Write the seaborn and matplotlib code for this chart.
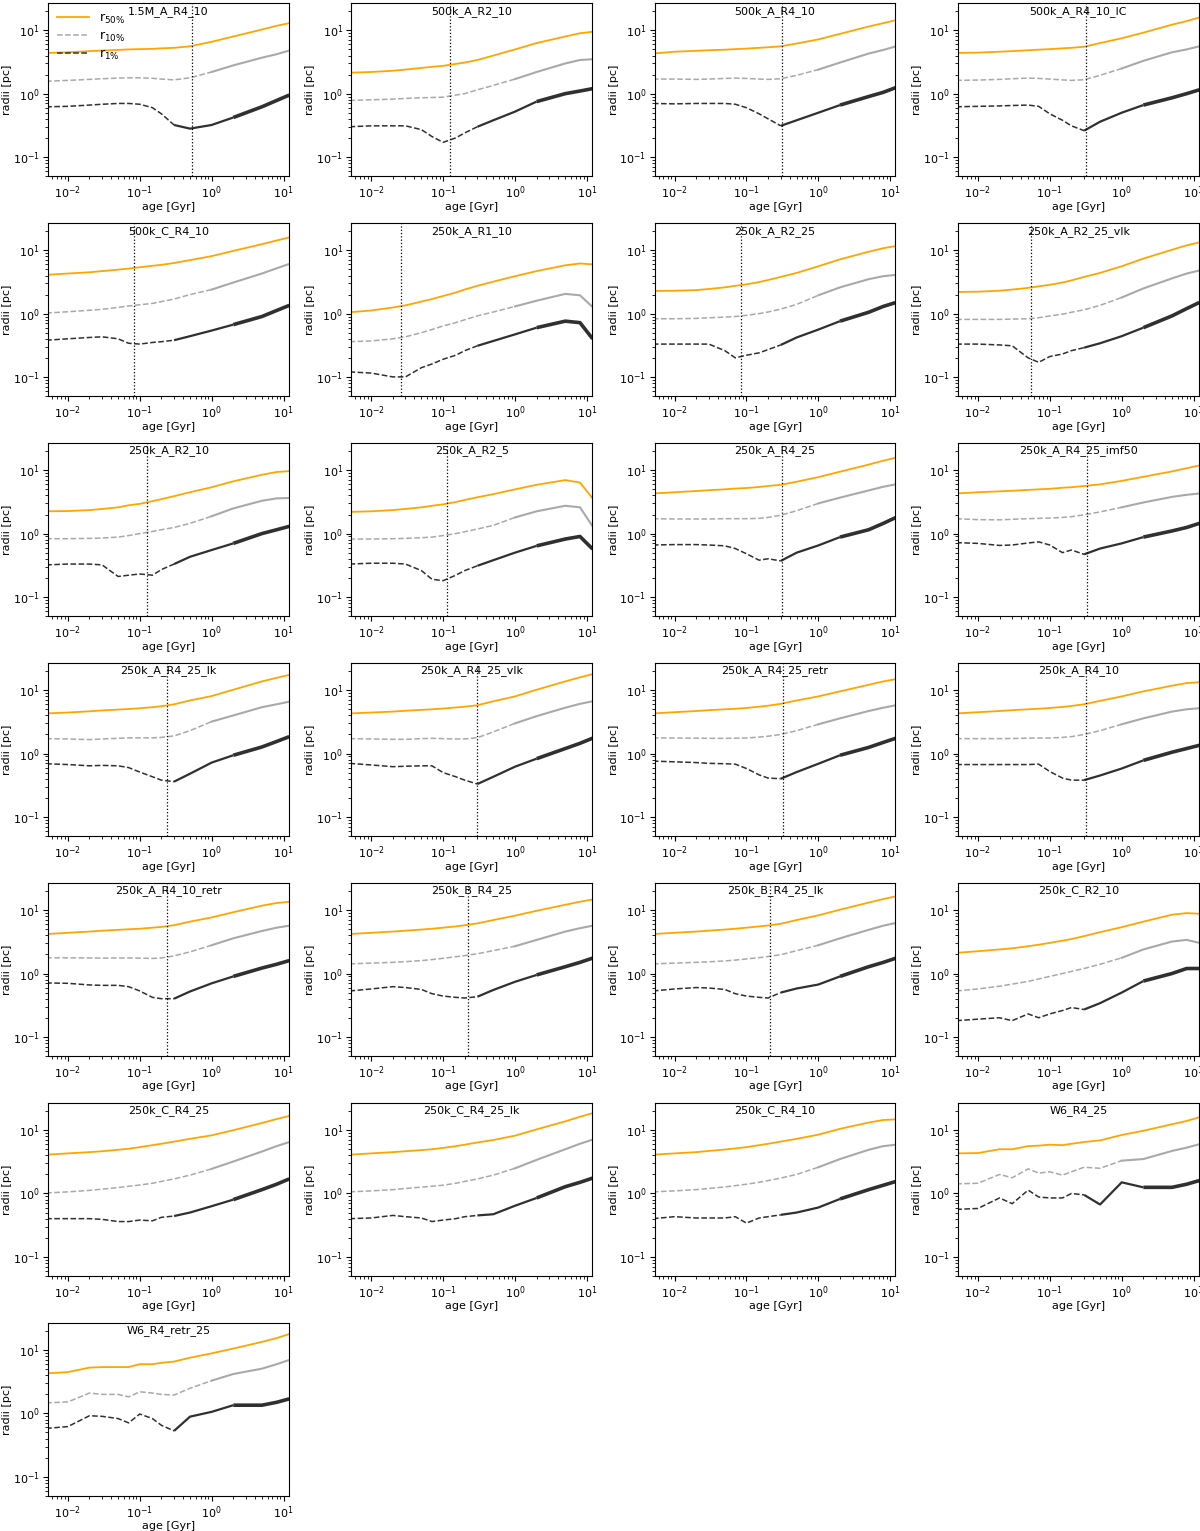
import numpy as np
import pandas as pd
import matplotlib
matplotlib.use("Agg")
import matplotlib.pyplot as plt
import seaborn as sns

# sampled ages (Gyr), shared by all runs
AGE = [0.005, 0.01, 0.02, 0.03, 0.05, 0.07, 0.1, 0.15, 0.2, 0.3, 0.5, 1, 2, 5, 8, 12]

NAMES = ["1.5M_A_R4_10", "500k_A_R2_10", "500k_A_R4_10", "500k_A_R4_10_IC",
         "500k_C_R4_10", "250k_A_R1_10", "250k_A_R2_25", "250k_A_R2_25_vlk",
         "250k_A_R2_10", "250k_A_R2_5", "250k_A_R4_25", "250k_A_R4_25_imf50",
         "250k_A_R4_25_lk", "250k_A_R4_25_vlk", "250k_A_R4_25_retr", "250k_A_R4_10",
         "250k_A_R4_10_retr", "250k_B_R4_25", "250k_B_R4_25_lk", "250k_C_R2_10",
         "250k_C_R4_25", "250k_C_R4_25_lk", "250k_C_R4_10", "W6_R4_25",
         "W6_R4_retr_25"]

# age of the dotted marker line (None = no line)
VLINE = [0.53, 0.125, 0.31, 0.32, 0.083, 0.026, 0.085, 0.054, 0.128, 0.113,
         0.31, 0.33, 0.24, 0.3, 0.32, 0.32, 0.24, 0.22, 0.21,
         None, None, None, None, None, None]

R50 = [
    [4.4, 4.5, 4.7, 4.8, 4.9, 5.0, 5.05, 5.1, 5.2, 5.3, 5.6, 6.6, 8.0, 10.3, 11.8, 13.0],
    [2.14, 2.2, 2.3, 2.4, 2.55, 2.65, 2.75, 2.95, 3.1, 3.4, 4.0, 5.0, 6.3, 8.0, 9.0, 9.5],
    [4.3, 4.6, 4.75, 4.85, 4.95, 5.05, 5.15, 5.3, 5.4, 5.6, 6.2, 7.2, 8.8, 11.5, 13.0, 14.5],
    [4.4, 4.45, 4.6, 4.7, 4.85, 4.95, 5.05, 5.2, 5.3, 5.5, 6.3, 7.5, 9.2, 12.3, 14.0, 16.0],
    [4.1, 4.3, 4.5, 4.7, 4.95, 5.15, 5.4, 5.7, 5.9, 6.3, 7.0, 8.1, 9.8, 12.5, 14.3, 16.0],
    [1.05, 1.12, 1.25, 1.35, 1.55, 1.7, 1.9, 2.15, 2.4, 2.75, 3.2, 3.9, 4.7, 5.8, 6.2, 6.0],
    [2.28, 2.3, 2.35, 2.45, 2.6, 2.75, 2.9, 3.15, 3.4, 3.8, 4.4, 5.6, 7.2, 9.5, 10.8, 11.7],
    [2.2, 2.22, 2.3, 2.4, 2.55, 2.7, 2.85, 3.1, 3.35, 3.8, 4.4, 5.6, 7.4, 10.2, 12.0, 13.3],
    [2.25, 2.27, 2.35, 2.45, 2.6, 2.8, 2.95, 3.25, 3.5, 3.9, 4.5, 5.4, 6.7, 8.5, 9.4, 9.7],
    [2.2, 2.25, 2.35, 2.45, 2.6, 2.75, 2.9, 3.15, 3.4, 3.75, 4.2, 5.0, 5.9, 7.0, 6.4, 3.6],
    [4.3, 4.5, 4.7, 4.85, 5.0, 5.15, 5.25, 5.45, 5.65, 5.9, 6.6, 7.8, 9.5, 12.3, 14.2, 15.8],
    [4.3, 4.5, 4.65, 4.75, 4.9, 5.0, 5.1, 5.3, 5.4, 5.65, 6.0, 6.8, 7.9, 9.6, 10.8, 11.9],
    [4.3, 4.45, 4.65, 4.8, 4.95, 5.05, 5.2, 5.4, 5.6, 6.0, 6.9, 8.1, 10.2, 13.8, 15.7, 17.5],
    [4.3, 4.45, 4.6, 4.75, 4.9, 5.0, 5.15, 5.35, 5.5, 5.8, 6.7, 8.0, 10.2, 13.8, 16.0, 18.0],
    [4.3, 4.5, 4.7, 4.85, 5.0, 5.1, 5.25, 5.5, 5.7, 6.1, 6.9, 8.0, 9.6, 12.2, 13.8, 15.0],
    [4.3, 4.5, 4.7, 4.85, 5.0, 5.1, 5.25, 5.45, 5.65, 6.0, 6.8, 8.0, 9.6, 11.8, 13.0, 13.4],
    [4.2, 4.4, 4.6, 4.75, 4.9, 5.0, 5.1, 5.3, 5.45, 5.8, 6.6, 7.7, 9.3, 11.8, 13.0, 13.6],
    [4.2, 4.4, 4.6, 4.75, 4.95, 5.1, 5.3, 5.55, 5.8, 6.2, 7.0, 8.2, 9.8, 12.2, 13.6, 14.8],
    [4.2, 4.4, 4.6, 4.75, 4.95, 5.1, 5.3, 5.55, 5.75, 6.1, 7.0, 8.3, 10.2, 13.2, 15.0, 16.6],
    [2.12, 2.25, 2.4, 2.5, 2.7, 2.85, 3.05, 3.3, 3.5, 3.9, 4.5, 5.4, 6.6, 8.5, 9.0, 8.8],
    [4.1, 4.3, 4.5, 4.65, 4.9, 5.1, 5.4, 5.8, 6.1, 6.6, 7.3, 8.3, 10.0, 13.0, 15.0, 16.8],
    [4.1, 4.3, 4.5, 4.65, 4.85, 5.0, 5.25, 5.6, 5.9, 6.4, 7.0, 8.2, 10.3, 13.8, 16.3, 18.6],
    [4.1, 4.3, 4.5, 4.7, 4.95, 5.15, 5.4, 5.8, 6.1, 6.6, 7.3, 8.5, 10.5, 13.2, 14.5, 14.8],
    [4.3, 4.35, 5.0, 5.0, 5.6, 5.7, 5.9, 5.8, 6.1, 6.5, 6.9, 8.4, 9.8, 12.4, 14.0, 16.0],
    [4.3, 4.5, 5.3, 5.4, 5.4, 5.4, 6.0, 6.0, 6.3, 6.6, 7.6, 8.9, 10.6, 13.5, 15.5, 18.0],
]

R10 = [
    [1.57, 1.62, 1.68, 1.72, 1.76, 1.78, 1.78, 1.75, 1.70, 1.65, 1.78, 2.2, 2.8, 3.7, 4.2, 4.8],
    [0.78, 0.80, 0.82, 0.84, 0.86, 0.87, 0.88, 0.95, 1.0, 1.15, 1.35, 1.7, 2.2, 3.0, 3.4, 3.5],
    [1.70, 1.70, 1.68, 1.70, 1.74, 1.76, 1.74, 1.70, 1.68, 1.72, 1.95, 2.4, 3.1, 4.3, 4.9, 5.6],
    [1.62, 1.64, 1.68, 1.72, 1.76, 1.74, 1.70, 1.65, 1.62, 1.66, 1.95, 2.5, 3.3, 4.5, 5.0, 5.6],
    [1.02, 1.07, 1.13, 1.17, 1.25, 1.32, 1.38, 1.45, 1.55, 1.7, 2.0, 2.4, 3.1, 4.3, 5.2, 6.1],
    [0.36, 0.37, 0.40, 0.43, 0.50, 0.56, 0.64, 0.72, 0.80, 0.92, 1.06, 1.3, 1.6, 2.05, 1.95, 1.27],
    [0.83, 0.83, 0.84, 0.86, 0.88, 0.90, 0.94, 1.0, 1.06, 1.18, 1.4, 1.95, 2.6, 3.5, 3.9, 4.1],
    [0.81, 0.81, 0.81, 0.82, 0.83, 0.86, 0.92, 0.98, 1.05, 1.15, 1.35, 1.8, 2.5, 3.6, 4.3, 4.8],
    [0.83, 0.83, 0.84, 0.85, 0.88, 0.93, 1.0, 1.08, 1.15, 1.25, 1.45, 1.88, 2.5, 3.3, 3.6, 3.65],
    [0.82, 0.82, 0.83, 0.84, 0.86, 0.88, 0.93, 1.0, 1.07, 1.18, 1.35, 1.8, 2.25, 2.75, 2.6, 1.3],
    [1.72, 1.70, 1.70, 1.70, 1.72, 1.72, 1.72, 1.74, 1.80, 1.95, 2.3, 3.0, 3.7, 4.8, 5.5, 6.0],
    [1.72, 1.66, 1.65, 1.68, 1.72, 1.74, 1.76, 1.80, 1.85, 1.98, 2.2, 2.6, 3.1, 3.8, 4.1, 4.3],
    [1.72, 1.70, 1.66, 1.70, 1.74, 1.77, 1.77, 1.77, 1.80, 1.90, 2.3, 3.2, 4.0, 5.4, 6.0, 6.6],
    [1.72, 1.70, 1.68, 1.68, 1.72, 1.74, 1.72, 1.70, 1.70, 1.78, 2.2, 3.0, 3.9, 5.3, 6.1, 6.7],
    [1.77, 1.76, 1.75, 1.74, 1.74, 1.75, 1.76, 1.82, 1.88, 2.0, 2.3, 2.9, 3.6, 4.7, 5.3, 5.8],
    [1.72, 1.72, 1.72, 1.73, 1.75, 1.76, 1.76, 1.80, 1.85, 2.0, 2.3, 2.9, 3.6, 4.6, 5.0, 5.2],
    [1.77, 1.77, 1.76, 1.75, 1.76, 1.76, 1.75, 1.73, 1.76, 1.9, 2.2, 2.8, 3.6, 4.7, 5.3, 5.7],
    [1.42, 1.46, 1.50, 1.54, 1.60, 1.66, 1.74, 1.84, 1.92, 2.05, 2.3, 2.7, 3.4, 4.6, 5.2, 5.7],
    [1.42, 1.46, 1.50, 1.53, 1.58, 1.63, 1.70, 1.78, 1.86, 1.98, 2.3, 2.8, 3.6, 4.9, 5.7, 6.3],
    [0.53, 0.57, 0.63, 0.68, 0.75, 0.82, 0.90, 1.0, 1.08, 1.2, 1.4, 1.77, 2.4, 3.2, 3.4, 3.05],
    [1.02, 1.06, 1.12, 1.17, 1.24, 1.30, 1.36, 1.45, 1.55, 1.7, 1.95, 2.45, 3.2, 4.6, 5.6, 6.5],
    [1.06, 1.10, 1.15, 1.2, 1.26, 1.30, 1.35, 1.45, 1.55, 1.70, 1.95, 2.5, 3.4, 5.0, 6.1, 7.1],
    [1.06, 1.10, 1.15, 1.2, 1.27, 1.33, 1.40, 1.5, 1.6, 1.75, 2.0, 2.6, 3.5, 4.9, 5.6, 5.9],
    [1.42, 1.45, 2.0, 1.77, 2.45, 2.1, 2.2, 1.95, 2.2, 2.6, 2.5, 3.3, 3.5, 4.7, 5.3, 6.0],
    [1.47, 1.52, 2.1, 2.0, 2.0, 1.83, 2.2, 2.1, 2.0, 1.95, 2.5, 3.3, 4.2, 5.1, 6.0, 7.0],
]

R1 = [
    [0.62, 0.63, 0.66, 0.68, 0.70, 0.70, 0.68, 0.60, 0.48, 0.32, 0.28, 0.32, 0.42, 0.62, 0.78, 0.95],
    [0.30, 0.31, 0.31, 0.31, 0.27, 0.21, 0.17, 0.20, 0.24, 0.30, 0.38, 0.52, 0.75, 1.0, 1.1, 1.2],
    [0.70, 0.69, 0.70, 0.70, 0.70, 0.68, 0.60, 0.48, 0.40, 0.31, 0.38, 0.50, 0.66, 0.90, 1.05, 1.25],
    [0.62, 0.63, 0.64, 0.65, 0.66, 0.63, 0.48, 0.38, 0.31, 0.26, 0.36, 0.50, 0.66, 0.86, 1.0, 1.15],
    [0.38, 0.40, 0.42, 0.43, 0.40, 0.34, 0.33, 0.35, 0.36, 0.38, 0.44, 0.54, 0.67, 0.90, 1.12, 1.35],
    [0.12, 0.115, 0.10, 0.10, 0.14, 0.16, 0.19, 0.22, 0.26, 0.31, 0.37, 0.47, 0.60, 0.76, 0.72, 0.40],
    [0.33, 0.33, 0.33, 0.33, 0.26, 0.20, 0.22, 0.24, 0.27, 0.32, 0.42, 0.56, 0.76, 1.05, 1.3, 1.5],
    [0.33, 0.33, 0.32, 0.31, 0.20, 0.17, 0.21, 0.23, 0.26, 0.29, 0.34, 0.44, 0.60, 0.92, 1.2, 1.5],
    [0.32, 0.33, 0.33, 0.32, 0.21, 0.22, 0.23, 0.22, 0.27, 0.33, 0.43, 0.55, 0.70, 1.0, 1.15, 1.3],
    [0.33, 0.34, 0.34, 0.33, 0.26, 0.19, 0.18, 0.22, 0.26, 0.31, 0.38, 0.50, 0.64, 0.82, 0.90, 0.57],
    [0.66, 0.67, 0.67, 0.66, 0.64, 0.58, 0.48, 0.38, 0.40, 0.37, 0.50, 0.65, 0.88, 1.15, 1.45, 1.8],
    [0.72, 0.70, 0.65, 0.66, 0.71, 0.74, 0.66, 0.50, 0.55, 0.47, 0.58, 0.70, 0.88, 1.10, 1.25, 1.45],
    [0.69, 0.67, 0.64, 0.65, 0.64, 0.60, 0.51, 0.43, 0.38, 0.36, 0.48, 0.72, 0.94, 1.27, 1.55, 1.85],
    [0.70, 0.66, 0.62, 0.63, 0.64, 0.64, 0.50, 0.43, 0.38, 0.33, 0.43, 0.62, 0.83, 1.20, 1.45, 1.75],
    [0.76, 0.74, 0.72, 0.70, 0.69, 0.68, 0.58, 0.46, 0.41, 0.40, 0.51, 0.69, 0.94, 1.25, 1.5, 1.75],
    [0.67, 0.67, 0.67, 0.67, 0.67, 0.68, 0.52, 0.41, 0.38, 0.38, 0.45, 0.58, 0.78, 1.05, 1.2, 1.35],
    [0.71, 0.70, 0.66, 0.65, 0.65, 0.62, 0.53, 0.42, 0.40, 0.40, 0.52, 0.70, 0.90, 1.22, 1.4, 1.6],
    [0.53, 0.57, 0.62, 0.60, 0.56, 0.48, 0.44, 0.42, 0.41, 0.43, 0.55, 0.74, 0.95, 1.28, 1.5, 1.75],
    [0.53, 0.57, 0.60, 0.59, 0.56, 0.48, 0.44, 0.42, 0.41, 0.50, 0.58, 0.67, 0.90, 1.28, 1.5, 1.75],
    [0.18, 0.19, 0.20, 0.18, 0.23, 0.20, 0.23, 0.26, 0.29, 0.27, 0.34, 0.50, 0.76, 1.0, 1.2, 1.2],
    [0.40, 0.40, 0.40, 0.39, 0.36, 0.36, 0.38, 0.37, 0.42, 0.44, 0.50, 0.63, 0.80, 1.15, 1.4, 1.7],
    [0.40, 0.41, 0.45, 0.43, 0.41, 0.36, 0.38, 0.40, 0.43, 0.45, 0.47, 0.64, 0.85, 1.28, 1.5, 1.75],
    [0.40, 0.43, 0.41, 0.41, 0.41, 0.43, 0.34, 0.41, 0.43, 0.46, 0.50, 0.60, 0.82, 1.15, 1.35, 1.55],
    [0.56, 0.58, 0.85, 0.69, 1.13, 0.88, 0.85, 0.85, 1.0, 0.95, 0.67, 1.5, 1.25, 1.25, 1.4, 1.6],
    [0.58, 0.62, 0.92, 0.90, 0.83, 0.71, 0.98, 0.83, 0.65, 0.53, 0.89, 1.06, 1.35, 1.35, 1.5, 1.7],
]

ORANGE = "orange"
GREY = "darkgray"
DARK = "#303030"

plt.rcParams["font.size"] = 8

fig, axes = plt.subplots(7, 4, figsize=(12, 15.31), dpi=100)
fig.subplots_adjust(left=0.04, right=0.999, top=0.998, bottom=0.023,
                    wspace=0.26, hspace=0.272)
axes = axes.ravel()

age = np.array(AGE)

for i, name in enumerate(NAMES):
    ax = axes[i]
    r50 = np.array(R50[i])
    r10 = np.array(R10[i])
    r1 = np.array(R1[i])
    first = i == 0

    sns.lineplot(x=age, y=r50, ax=ax, color=ORANGE, lw=1.3,
                 label=r"r$_{50\%}$" if first else None)

    # r10: dashed early, dense (looks solid) later
    m = age <= 1
    sns.lineplot(x=age[m], y=r10[m], ax=ax, color=GREY, lw=1.1, linestyle="--",
                 label=r"r$_{10\%}$" if first else None)
    m = age >= 1
    sns.lineplot(x=age[m], y=r10[m], ax=ax, color=GREY, lw=1.5)

    # r1: dashed early, noisy band later
    m = age <= 0.3
    sns.lineplot(x=age[m], y=r1[m], ax=ax, color=DARK, lw=1.1, linestyle="--",
                 label=r"r$_{1\%}$" if first else None)
    m = (age >= 0.3) & (age <= 2)
    sns.lineplot(x=age[m], y=r1[m], ax=ax, color=DARK, lw=1.6,
                 solid_capstyle="butt")
    m = age >= 2
    sns.lineplot(x=age[m], y=r1[m], ax=ax, color=DARK, lw=2.6,
                 solid_capstyle="butt")

    if VLINE[i] is not None:
        ax.axvline(VLINE[i], color="k", linestyle=":", lw=0.9)

    ax.set_xscale("log")
    ax.set_yscale("log")
    ax.set_xlim(5.3e-3, 11.8)
    ax.set_ylim(0.05, 27)
    ax.set_xlabel("age [Gyr]", labelpad=0.5)
    ax.set_ylabel("radii [pc]", labelpad=0.5)
    ax.tick_params(labelsize=8, pad=2.5)
    ax.text(0.5, 0.985, name, transform=ax.transAxes, ha="center", va="top")

    if first:
        ax.legend(loc="upper left", frameon=False, fontsize=9,
                  handlelength=2.6, borderaxespad=0.3, labelspacing=0.3)
    elif ax.get_legend() is not None:
        ax.get_legend().remove()

for ax in axes[len(NAMES):]:
    ax.remove()

plt.savefig("out.png", dpi=100)
